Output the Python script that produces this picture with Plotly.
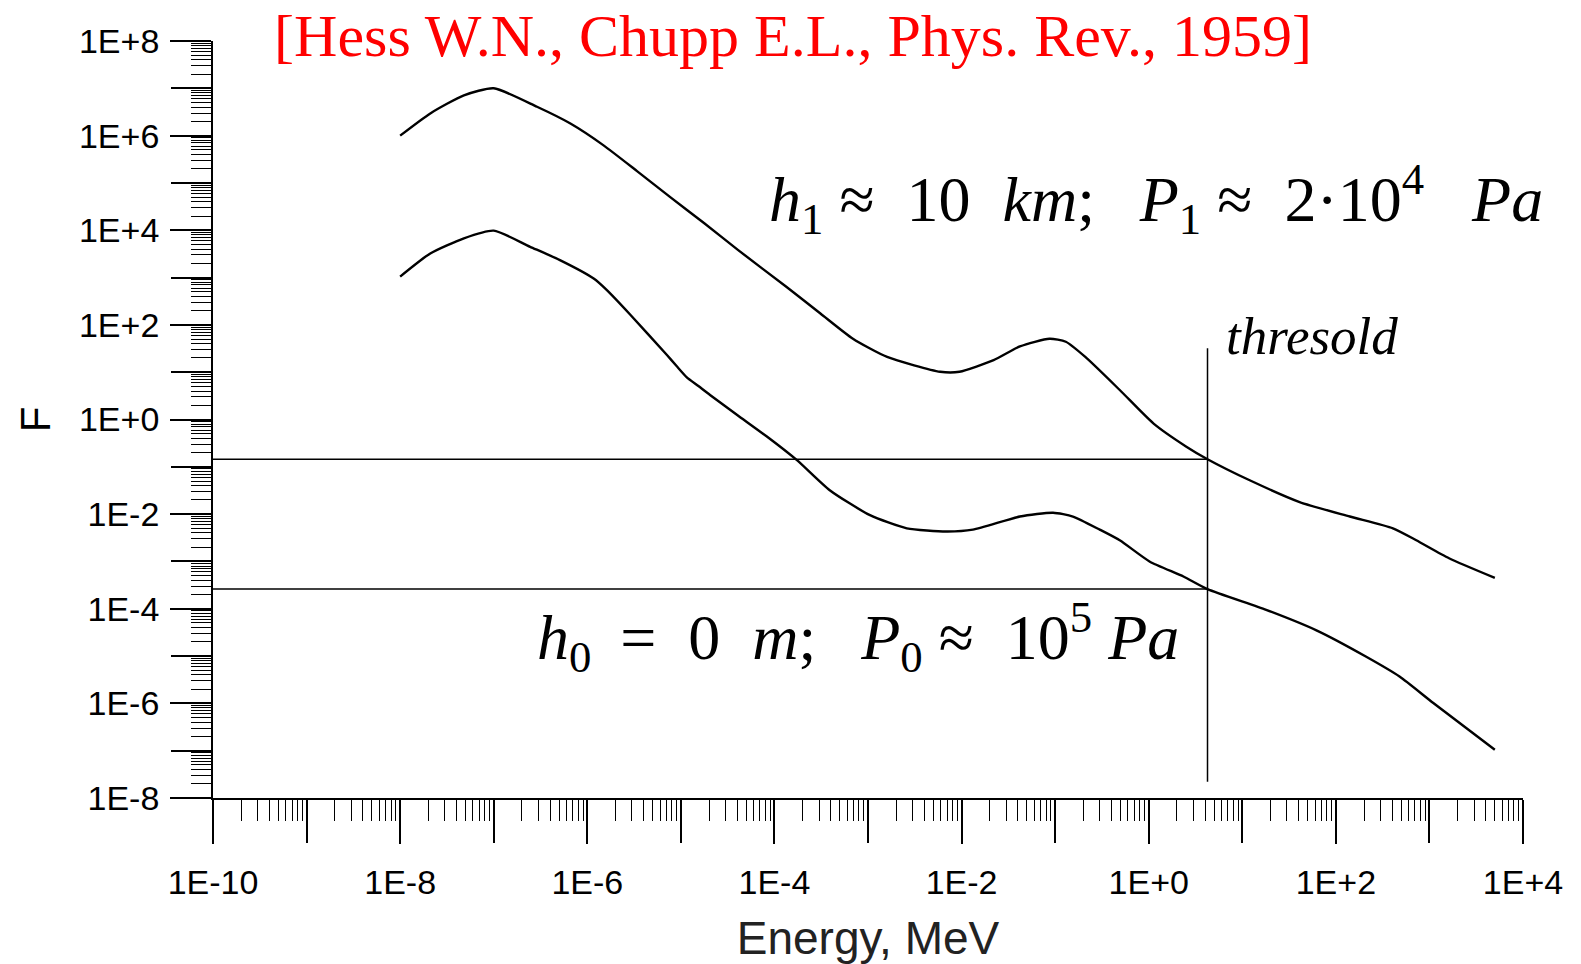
import plotly.graph_objects as go

# ---- data ----
energy_upper = [1e-8, 2.1e-8, 4.8e-8, 1e-7, 2.9e-7, 6.6e-7, 1.48e-6, 3.4e-6, 7.7e-6, 1.78e-5, 4.1e-5,
                1.35e-4, 3.1e-4, 6.9e-4, 1.6e-3, 5.9e-3, 9.5e-3, 0.022, 0.042, 0.087, 0.13,
                0.21, 0.49, 1.12, 2.5, 4.25, 12, 41, 141, 407, 724, 1620, 5000]
flux_upper = [1e6, 2.95e6, 7.1e6, 1e7, 4.07e6, 1.8e6, 6.3e5, 1.78e5, 5.0e4, 1.41e4, 3.8e3,
              630, 174, 51, 21, 10.2, 10.2, 18, 35, 51, 44,
              21, 4.2, 0.83, 0.27, 0.145, 0.052, 0.018, 0.0089, 0.005, 0.0028, 0.00117, 0.00045]

energy_lower = [1e-8, 2.1e-8, 4.8e-8, 1e-7, 2.45e-7, 5.1e-7, 1.17e-6, 1.62e-6, 2.9e-6, 7.1e-6, 9.0e-6,
                1.15e-5, 1.54e-5, 2.05e-5, 4.0e-5, 8.3e-5, 1.74e-4, 3.9e-4, 1.05e-3, 2.6e-3, 6.9e-3, 0.0132, 0.042,
                0.095, 0.155, 0.30, 0.49, 1.02, 2.35, 4.25, 18, 62, 209, 479, 1100, 5000]
flux_lower = [1050, 3240, 6760, 9800, 4470, 2340, 955, 543, 162, 23, 13.5,
              7.9, 5.1, 3.3, 1.245, 0.436, 0.138, 0.032, 0.0095, 0.005, 0.0043, 0.0047, 0.0089,
              0.0107, 0.0089, 0.0047, 0.0028, 0.001, 4.8e-4, 2.6e-4, 9.5e-5, 3.5e-5, 9.8e-6, 3.7e-6, 1.02e-6, 1.05e-7]

threshold_energy = 4.25
threshold_flux_upper = 0.145
threshold_flux_lower = 2.6e-4
threshold_line_flux = [32, 2.2e-8]
energy_min = 1e-10

x_label_decades = [-10, -8, -6, -4, -2, 0, 2, 4]
x_plain_decades = [-9, -7, -5, -3, -1, 1, 3]
y_label_decades = [-8, -6, -4, -2, 0, 2, 4, 6, 8]
y_plain_decades = [-7, -5, -3, -1, 1, 3, 5, 7]
x_ticktext = ["1E%+d" % d for d in x_label_decades]
y_ticktext = ["1E%+d" % d for d in y_label_decades]
x_tickvals = [10.0 ** d for d in x_label_decades]
y_tickvals = [10.0 ** d for d in y_label_decades]
x_plain_vals = [10.0 ** d for d in x_plain_decades]
y_plain_vals = [10.0 ** d for d in y_plain_decades]
x_minor = [m * 10.0 ** d for d in range(-10, 4) for m in range(2, 10)]
y_minor = [m * 10.0 ** d for d in range(-8, 8) for m in range(2, 10)]

title_text = "[Hess W.N., Chupp E.L., Phys. Rev., 1959]"
S = "\u00a0"
T = "\u2009"
label_upper = ("<i>h</i><sub>1</sub>" + S + "\u2248" + S + S + "10" + S + S + "<i>km</i>;" + S + S + T
               + "<i>P</i><sub>1</sub>" + S + "\u2248" + S + S + "2\u00b710<sup>4</sup>" + S + S + S + "<i>Pa</i>")
label_lower = ("<i>h</i><sub>0</sub>" + S + T + "=" + S + S + "0" + S + S + "<i>m</i>;" + S + S + T
               + "<i>P</i><sub>0</sub>" + S + "\u2248" + S + S + "10<sup>5</sup>" + S + "<i>Pa</i>")
label_threshold = "<i>thresold</i>"

fig = go.Figure()
line_style = dict(color="black", width=2.4, shape="spline", smoothing=0.6)
fig.add_trace(go.Scatter(x=energy_upper, y=flux_upper, mode="lines", line=line_style, showlegend=False))
fig.add_trace(go.Scatter(x=energy_lower, y=flux_lower, mode="lines", line=line_style, showlegend=False))

thin = dict(color="black", width=1.5)
fig.add_trace(go.Scatter(x=[energy_min, threshold_energy], y=[threshold_flux_upper] * 2,
                         mode="lines", line=thin, showlegend=False))
fig.add_trace(go.Scatter(x=[energy_min, threshold_energy], y=[threshold_flux_lower] * 2,
                         mode="lines", line=thin, showlegend=False))
fig.add_trace(go.Scatter(x=[threshold_energy] * 2, y=threshold_line_flux,
                         mode="lines", line=thin, showlegend=False))
# carrier trace for the overlay axes that hold the unlabeled decade ticks
fig.add_trace(go.Scatter(x=[threshold_energy], y=[threshold_flux_upper], xaxis="x2", yaxis="y2",
                         mode="lines", line=thin, showlegend=False, hoverinfo="skip"))

sans = "Liberation Sans, Arial, sans-serif"
axis_font = dict(family=sans, size=34, color="black")
common = dict(type="log", showgrid=False, zeroline=False, ticks="outside", tickwidth=1.6,
              tickcolor="black", automargin=False)
fig.update_layout(
    xaxis=dict(**common, range=[-10, 4], showline=True, linecolor="black", linewidth=1.8,
               ticklen=44, tickmode="array", tickvals=x_tickvals, ticktext=x_ticktext,
               tickfont=axis_font, ticklabelstandoff=9,
               minor=dict(tickmode="array", tickvals=x_minor, ticks="outside", ticklen=21,
                          tickwidth=1.4, tickcolor="black", showgrid=False),
               title=dict(text="Energy, MeV", font=dict(family=sans, size=46, color="#222"), standoff=22)),
    yaxis=dict(**common, range=[-8, 8], showline=True, linecolor="black", linewidth=1.8,
               ticklen=41, tickmode="array", tickvals=y_tickvals, ticktext=y_ticktext,
               tickfont=axis_font, ticklabelstandoff=4,
               minor=dict(tickmode="array", tickvals=y_minor, ticks="outside", ticklen=20,
                          tickwidth=1.4, tickcolor="black", showgrid=False),
               title=dict(text="F", font=dict(family=sans, size=42, color="black"), standoff=15)),
    xaxis2=dict(**common, range=[-10, 4], overlaying="x", anchor="y", side="bottom", showline=False,
                ticklen=44, tickmode="array", tickvals=x_plain_vals, showticklabels=False),
    yaxis2=dict(**common, range=[-8, 8], overlaying="y", anchor="x", side="left", showline=False,
                ticklen=41, tickmode="array", tickvals=y_plain_vals, showticklabels=False),
)

serif = "Liberation Serif, Times New Roman, serif"
fig.add_annotation(x=-4.08, y=4.66, xref="x", yref="y", text=label_upper, showarrow=False,
                   xanchor="left", yanchor="middle", font=dict(family=serif, size=64, color="black"))
fig.add_annotation(x=-6.56, y=-4.60, xref="x", yref="y", text=label_lower, showarrow=False,
                   xanchor="left", yanchor="middle", font=dict(family=serif, size=64, color="black"))
fig.add_annotation(x=0.80, y=1.76, xref="x", yref="y", text=label_threshold, showarrow=False,
                   xanchor="left", yanchor="middle", font=dict(family=serif, size=53, color="black"))

fig.update_layout(
    width=1581, height=964, autosize=False,
    margin=dict(l=213, r=58, t=41, b=166, pad=0),
    paper_bgcolor="white", plot_bgcolor="white",
    title=dict(text=title_text, x=793 / 1581, xanchor="center", y=1 - 35 / 964, yanchor="middle",
               xref="container", yref="container",
               font=dict(family=serif, size=60, color="red")),
)

fig.write_html("out.html", config={"displayModeBar": False},
               post_script="document.body.style.margin='0';document.body.style.overflow='hidden';")
